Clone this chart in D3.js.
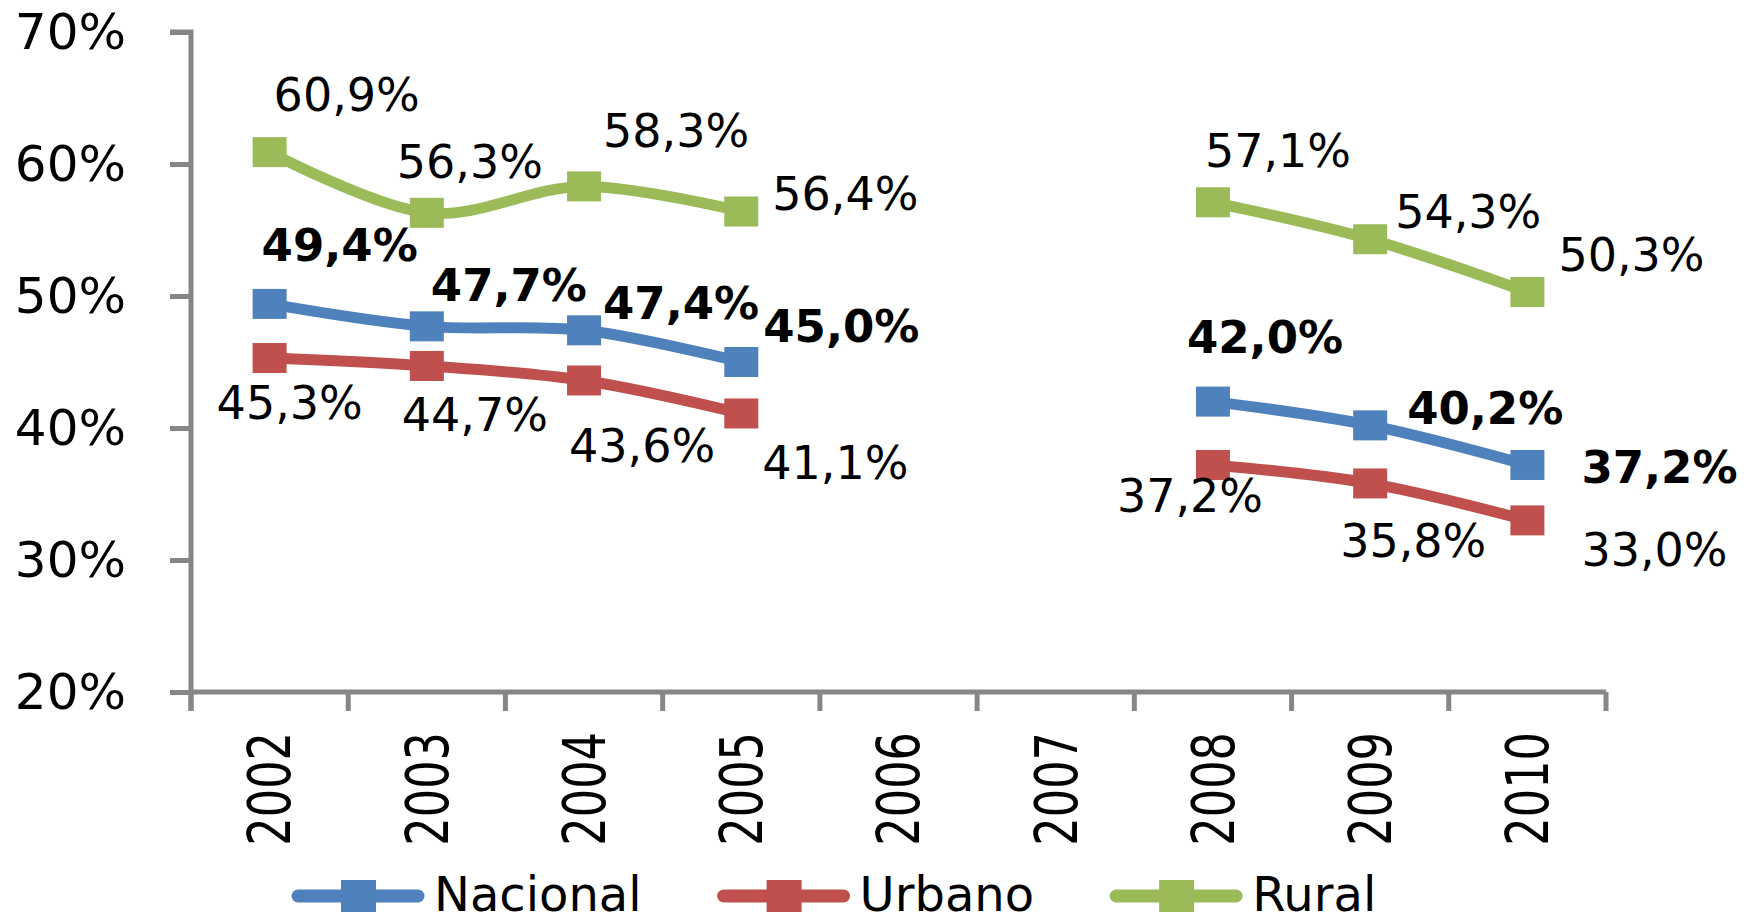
<!DOCTYPE html>
<html>
<head>
<meta charset="utf-8">
<script src="https://cdn.jsdelivr.net/npm/d3@7"></script>
<style>
  body { margin: 0; background: #fff; }
  text { font-family: "DejaVu Sans", Verdana, sans-serif; fill: #000; }
</style>
</head>
<body>
<svg id="chart"></svg>
<script>
// chart values
var years = ["2002", "2003", "2004", "2005", "2006", "2007", "2008", "2009", "2010"];
var nacional = [49.4, 47.7, 47.4, 45.0, null, null, 42.0, 40.2, 37.2];
var urbano   = [45.3, 44.7, 43.6, 41.1, null, null, 37.2, 35.8, 33.0];
var rural    = [60.9, 56.3, 58.3, 56.4, null, null, 57.1, 54.3, 50.3];
var yTicks = [20, 30, 40, 50, 60, 70];

// hand placed label nudges (left edge / baseline, relative to the point)
var nacionalLabelOffsets = [[-8,-43],[4,-25],[19,-11],[22,-20],null,null,[-26,-49],[37,-1],[54,18]];
var urbanoLabelOffsets   = [[-53,61],[-25,65],[-15,82],[21,66],null,null,[-96,47],[-30,74],[54,46]];
var ruralLabelOffsets    = [[4,-41],[-30,-35],[19,-39],[31,-2],null,null,[-8,-35],[25,-11],[31,-21]];

var series = [
  {name: "Nacional", values: nacional, color: "#4F81BD", bold: true,  offsets: nacionalLabelOffsets},
  {name: "Urbano",   values: urbano,   color: "#C0504D", bold: false, offsets: urbanoLabelOffsets},
  {name: "Rural",    values: rural,    color: "#9BBB59", bold: false, offsets: ruralLabelOffsets}
];

var W = 1754, H = 923;
var margin = {left: 191, top: 32};
var width = 1415, height = 660;
var axisColor = "#868686";

var svg = d3.select("#chart").attr("width", W).attr("height", H);
var g = svg.append("g").attr("transform", "translate(" + margin.left + "," + margin.top + ")");

var x = d3.scaleBand().domain(years).range([0, width]).padding(0);
var y = d3.scaleLinear().domain([20, 70]).range([height, 0]);
var cx = function(i){ return x(years[i]) + x.bandwidth() / 2; };

var fmt = function(v){ return v.toFixed(1).replace(".", ",") + "%"; };

// y axis
var yAxis = g.append("g")
  .call(d3.axisLeft(y).tickValues(yTicks).tickSize(21).tickPadding(44).tickFormat(function(d){ return d + "%"; }));
yAxis.selectAll("path").attr("stroke", axisColor).attr("stroke-width", 5).attr("d", "M0," + (height + 19) + "V0H-21");
yAxis.selectAll("line").attr("stroke", axisColor).attr("stroke-width", 5);
yAxis.selectAll("text").attr("font-size", 50).attr("font-family", "DejaVu Sans");

// x axis
var xAxis = g.append("g").attr("transform", "translate(0," + height + ")")
  .call(d3.axisBottom(x).tickSize(0).tickFormat(""));
xAxis.select("path").attr("stroke", axisColor).attr("stroke-width", 5).attr("d", "M0,0H" + width);
xAxis.selectAll(".tick").remove();

var bounds = years.map(function(d){ return x(d); }).concat([x.range()[1]]);
xAxis.selectAll("line.bound")
  .data(bounds)
  .enter().append("line")
    .attr("class", "bound")
    .attr("x1", function(d){ return d; })
    .attr("x2", function(d){ return d; })
    .attr("y1", 0)
    .attr("y2", 19)
    .attr("stroke", axisColor)
    .attr("stroke-width", 5);

xAxis.selectAll("text.year")
  .data(years)
  .enter().append("text")
    .attr("class", "year")
    .attr("transform", function(d, i){ return "translate(" + cx(i) + ",40) rotate(-90) scale(0.77,1)"; })
    .attr("text-anchor", "end")
    .attr("dy", "0.36em")
    .attr("font-size", 58)
    .text(function(d){ return d; });

// lines, markers, labels
var line = d3.line()
  .defined(function(d){ return d != null; })
  .x(function(d, i){ return cx(i); })
  .y(function(d){ return y(d); })
  .curve(d3.curveCatmullRom.alpha(0));

series.forEach(function(s){
  var sg = g.append("g");

  sg.append("path")
    .attr("d", line(s.values))
    .attr("fill", "none")
    .attr("stroke", s.color)
    .attr("stroke-width", 11)
    .attr("stroke-linejoin", "round");

  var pts = s.values.map(function(v, i){ return {v: v, i: i, off: s.offsets[i]}; })
    .filter(function(p){ return p.v != null; });

  sg.selectAll("rect")
    .data(pts)
    .enter().append("rect")
      .attr("x", function(p){ return cx(p.i) - 17; })
      .attr("y", function(p){ return y(p.v) - 15; })
      .attr("width", 34)
      .attr("height", 30)
      .attr("fill", s.color);

  sg.selectAll("text")
    .data(pts)
    .enter().append("text")
      .attr("x", function(p){ return cx(p.i) + p.off[0]; })
      .attr("y", function(p){ return y(p.v) + p.off[1]; })
      .attr("font-size", s.bold ? 45 : 46)
      .attr("font-weight", s.bold ? "bold" : "normal")
      .text(function(p){ return fmt(p.v); });
});

// legend (kept just inside the bottom edge)
var legend = svg.append("g").attr("transform", "translate(292,896)");
var lx = 0;
series.forEach(function(s){
  var item = legend.append("g").attr("transform", "translate(" + lx + ",0)");
  item.append("line")
    .attr("x1", 6).attr("x2", 126).attr("y1", 0).attr("y2", 0)
    .attr("stroke", s.color).attr("stroke-width", 13).attr("stroke-linecap", "round");
  item.append("rect")
    .attr("x", 49).attr("y", -16).attr("width", 35).attr("height", 32)
    .attr("fill", s.color);
  var t = item.append("text")
    .attr("x", 142).attr("y", 15)
    .attr("font-size", 48)
    .text(s.name);
  lx += 142 + t.node().getComputedTextLength() + 76;
});
</script>
</body>
</html>
